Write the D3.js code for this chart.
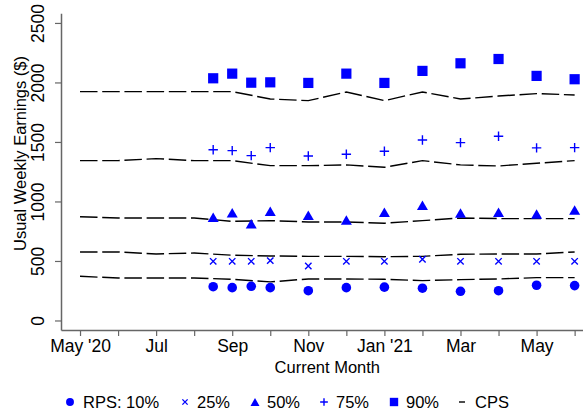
<!DOCTYPE html>
<html><head><meta charset="utf-8">
<script src="https://cdn.jsdelivr.net/npm/d3@7"></script>
<style>body{margin:0;background:#fff}svg{display:block;font-family:"Liberation Sans",Arial,sans-serif}</style>
</head><body><svg id="c" width="583" height="415"></svg>
<script>
// Month index: 0 = May 2020 ... 13 = Jun 2021
const monthLabels = ["May '20","","Jul","","Sep","","Nov","","Jan '21","","Mar","","May",""];
const cpsMonths = [0,1,2,3,4,5,6,7,8,9,10,11,12,13];
const rpsMonths = [3.5,4,4.5,5,6,7,8,9,10,11,12,13];

const cps10 = [371,357,357,357,346,324,349,349,346,335,343,349,360,360];
const cps25 = [576,576,559,567,548,542,539,539,536,539,556,559,559,576];
const cps50 = [872,861,861,861,833,839,828,828,817,839,861,856,856,856];
const cps75 = [1343,1343,1360,1343,1343,1301,1301,1307,1287,1343,1307,1298,1321,1343];
const cps90 = [1923,1923,1923,1923,1923,1861,1847,1920,1847,1920,1861,1886,1906,1895];

const rps10 = [284,276,287,276,250,276,280,271,245,250,296,293];
const rps25 = [497,497,497,503,458,497,497,514,497,497,497,497];
const rps50 = [867,906,813,917,884,844,909,968,903,909,895,928];
const rps75 = [1435,1427,1385,1452,1382,1397,1422,1517,1494,1548,1450,1452];
const rps90 = [2035,2074,1998,2001,1996,2074,1996,2097,2161,2197,2055,2027];

const yTicks = [0,500,1000,1500,2000,2500];
const legendLabels = ["RPS: 10%","25%","50%","75%","90%","CPS"];

const svg = d3.select("#c");
const blue = "#0000ff";
const x = d3.scaleLinear().domain([-0.5,13.22]).range([61,583]);
const y = d3.scaleLinear().domain([-80,2581]).range([330,13.3]);
const axisColor = "#666";

// axes
const xa = svg.append("g").attr("transform","translate(0,330)")
  .call(d3.axisBottom(x).tickValues(cpsMonths).tickFormat(i=>monthLabels[i]).tickSize(6).tickPadding(4).tickSizeOuter(0));
xa.select(".domain").attr("stroke",axisColor).attr("stroke-width",1.5);
xa.selectAll(".tick line").attr("stroke",axisColor).attr("stroke-width",1.2);
xa.selectAll(".tick text").attr("font-size","17.5px").attr("fill","#000").attr("font-family","Liberation Sans, Arial, sans-serif");

const ya = svg.append("g").attr("transform","translate(61,0)")
  .call(d3.axisLeft(y).tickValues(yTicks).tickFormat(d3.format("d")).tickSize(6).tickSizeOuter(0));
ya.select(".domain").attr("stroke",axisColor).attr("stroke-width",1.5);
ya.selectAll(".tick line").attr("stroke",axisColor).attr("stroke-width",1.2);
ya.selectAll(".tick text").attr("font-size","17.5px").attr("fill","#000")
  .attr("font-family","Liberation Sans, Arial, sans-serif")
  .attr("text-anchor","middle").attr("x",0).attr("dy",0)
  .attr("transform","translate(-22,0) rotate(-90)").attr("dominant-baseline","middle");

svg.append("text").attr("x",x(6.5)).attr("y",373).attr("text-anchor","middle")
  .attr("font-size","16.5px").text("Current Month");
svg.append("text").attr("transform",`translate(26,153.5) rotate(-90)`).attr("text-anchor","middle")
  .attr("font-size","16.5px").text("Usual Weekly Earnings ($)");

// CPS dashed lines
const line = d3.line().x((d,i)=>x(cpsMonths[i])).y(d=>y(d));
[cps10,cps25,cps50,cps75,cps90].forEach(s=>{
  svg.append("path").attr("d",line(s)).attr("fill","none").attr("stroke","#000")
    .attr("stroke-width",1.4).attr("stroke-dasharray","17.5,4.7");
});

// RPS markers
const sym = {
  circle: (g,cx,cy,s)=>g.append("circle").attr("cx",cx).attr("cy",cy).attr("r",4.8*s).attr("fill",blue),
  x: (g,cx,cy,s)=>{const h=3.2*s; g.append("path").attr("d",`M${cx-h},${cy-h}L${cx+h},${cy+h}M${cx-h},${cy+h}L${cx+h},${cy-h}`).attr("stroke",blue).attr("stroke-width",1.4);},
  tri: (g,cx,cy,s)=>{const w=5.5*s,h=9.5*s; g.append("path").attr("d",`M${cx},${cy-h/2}L${cx+w},${cy+h/2}L${cx-w},${cy+h/2}Z`).attr("fill",blue);},
  plus: (g,cx,cy,s)=>{const h=4.7*s; g.append("path").attr("d",`M${cx-h},${cy}L${cx+h},${cy}M${cx},${cy-h}L${cx},${cy+h}`).attr("stroke",blue).attr("stroke-width",1.4);},
  sq: (g,cx,cy,s)=>{const h=5.1*s; g.append("rect").attr("x",cx-h).attr("y",cy-h).attr("width",2*h).attr("height",2*h).attr("fill",blue);}
};
const series = [[rps10,"circle"],[rps25,"x"],[rps50,"tri"],[rps75,"plus"],[rps90,"sq"]];
const mg = svg.append("g");
series.forEach(([s,k])=>s.forEach((v,i)=>sym[k](mg,x(rpsMonths[i]),y(v),1)));

// legend
const lg = svg.append("g");
const ly = 402;
const legendX = [[70,83],[185,197],[255,267],[324,336],[394,406],[462,475]];
const kinds = ["circle","x","tri","plus","sq"];
kinds.forEach((k,i)=>sym[k](lg,legendX[i][0],ly,0.82));
lg.append("line").attr("x1",459).attr("x2",465).attr("y1",ly).attr("y2",ly).attr("stroke","#000").attr("stroke-width",1.4);
legendLabels.forEach((t,i)=>lg.append("text").attr("x",legendX[i][1]).attr("y",ly).attr("dy","0.35em")
  .attr("font-size","16.5px").text(t));
</script></body></html>
